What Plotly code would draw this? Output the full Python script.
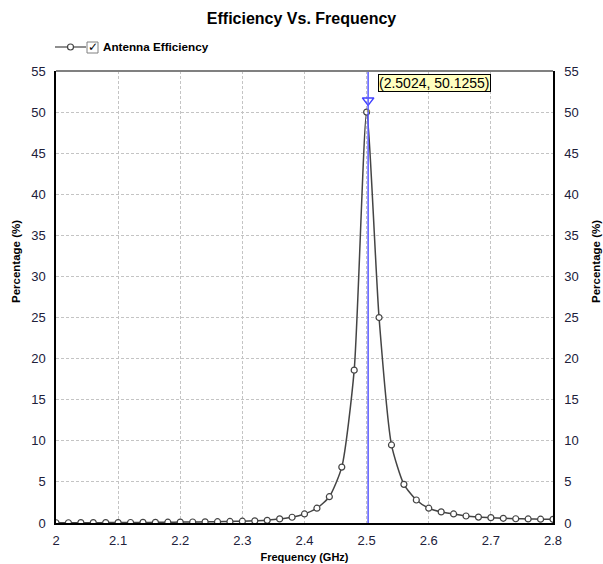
import plotly.graph_objects as go

freq = [2.00, 2.02, 2.04, 2.06, 2.08, 2.10, 2.12, 2.14, 2.16, 2.18,
        2.20, 2.22, 2.24, 2.26, 2.28, 2.30, 2.32, 2.34, 2.36, 2.38,
        2.40, 2.42, 2.44, 2.46, 2.48, 2.50, 2.52, 2.54, 2.56, 2.58,
        2.60, 2.62, 2.64, 2.66, 2.68, 2.70, 2.72, 2.74, 2.76, 2.78, 2.80]
efficiency = [0.03, 0.03, 0.04, 0.04, 0.05, 0.05, 0.06, 0.07, 0.08, 0.10,
              0.11, 0.12, 0.14, 0.16, 0.19, 0.22, 0.26, 0.32, 0.50, 0.70,
              1.10, 1.80, 3.20, 6.80, 18.6, 50.0, 25.0, 9.5, 4.7, 2.8,
              1.8, 1.35, 1.10, 0.85, 0.72, 0.65, 0.57, 0.52, 0.49, 0.46, 0.45]
peak_x = 2.5024
peak_y = 50.1255
series_name = "Antenna Efficiency"
title = "Efficiency Vs. Frequency"
x_title = "Frequency (GHz)"
y_title = "Percentage (%)"

FONT = "Arial, Liberation Sans, sans-serif"

fig = go.Figure()
fig.add_trace(go.Scatter(
    x=freq, y=efficiency, mode="lines+markers", name=series_name,
    line=dict(color="#444444", width=1.5, shape="spline", smoothing=0.6),
    marker=dict(symbol="circle", size=6, color="white",
                line=dict(color="#444444", width=1.2)),
    showlegend=False, hoverinfo="skip"))
# right axis companion (invisible)
fig.add_trace(go.Scatter(x=[freq[0]], y=[efficiency[0]], yaxis="y2",
                         mode="markers", marker=dict(opacity=0),
                         showlegend=False, hoverinfo="skip"))
# crosshair marker
fig.add_trace(go.Scatter(x=[peak_x], y=[peak_y + 1.3], mode="markers",
                         marker=dict(symbol="triangle-down-open", size=10,
                                     color="#4040ff", line=dict(width=1.5)),
                         showlegend=False, hoverinfo="skip"))
fig.add_trace(go.Scatter(x=[peak_x], y=[peak_y], mode="markers",
                         marker=dict(symbol="circle", size=3, color="#e8e000"),
                         showlegend=False, hoverinfo="skip"))

shapes = [
    dict(type="line", xref="x", yref="paper", x0=peak_x, x1=peak_x, y0=0, y1=1,
         line=dict(color="#5a5aff", width=1.5)),
    dict(type="line", xref="paper", yref="paper", x0=0, x1=1, y0=1, y1=1,
         line=dict(color="#808080", width=2)),
]
# manual legend (pixels -> paper)
def px(xp):
    return (xp - 56) / 497.0
def py(yp):
    return (523 - yp) / 452.0
shapes += [
    dict(type="line", xref="paper", yref="paper", x0=px(55), x1=px(86),
         y0=py(47), y1=py(47), line=dict(color="#444444", width=1.2)),
    dict(type="circle", xref="paper", yref="paper", x0=px(67.5), x1=px(73.5),
         y0=py(50), y1=py(44), fillcolor="white",
         line=dict(color="#444444", width=1.2)),
    dict(type="rect", xref="paper", yref="paper", x0=px(87), x1=px(98),
         y0=py(53), y1=py(42), fillcolor="white",
         line=dict(color="#808080", width=1)),
]
annotations = [
    dict(xref="paper", yref="paper", x=px(92.5), y=py(47.5), text="<b>✓</b>",
         showarrow=False, font=dict(family="DejaVu Sans", size=12, color="black"),
         xanchor="center", yanchor="middle"),
    dict(xref="paper", yref="paper", x=px(101), y=py(47), text="<b>" + series_name + "</b>",
         showarrow=False, font=dict(family=FONT, size=11.7, color="black"),
         xanchor="left", yanchor="middle"),
    dict(xref="x", yref="y", x=peak_x, y=53.5, xshift=10,
         text="(%.4f, %.4f)" % (peak_x, peak_y), showarrow=False,
         xanchor="left", yanchor="middle", bgcolor="#ffffc0",
         bordercolor="black", borderwidth=1, borderpad=0,
         font=dict(family=FONT, size=14, color="black")),
    dict(xref="paper", yref="paper", x=px(16), y=py(262), text="<b>" + y_title + "</b>",
         textangle=-90, showarrow=False, xanchor="center", yanchor="middle",
         font=dict(family=FONT, size=11.5, color="black")),
    dict(xref="paper", yref="paper", x=px(596), y=py(262), text="<b>" + y_title + "</b>",
         textangle=-90, showarrow=False, xanchor="center", yanchor="middle",
         font=dict(family=FONT, size=11.5, color="black")),
]

axis_font = dict(family=FONT, size=13, color="#20203a")
grid = dict(showgrid=True, gridcolor="#c4c4c4", griddash="3px,2px", gridwidth=1)
fig.update_layout(
    width=603, height=564,
    margin=dict(l=56, r=50, t=71, b=41, autoexpand=False),
    paper_bgcolor="white", plot_bgcolor="white",
    title=dict(text="<b>" + title + "</b>", x=0.5, xanchor="center",
               y=1 - 18 / 564, yanchor="middle",
               font=dict(family=FONT, size=16, color="black")),
    xaxis=dict(range=[2.0, 2.8], dtick=0.1, tick0=2.0, **grid,
               showline=True, linecolor="black", linewidth=1.5,
               zeroline=False, ticks="", tickfont=axis_font, automargin=False,
               ticklabelstandoff=5,
               title=dict(text="<b>" + x_title + "</b>", standoff=6,
                          font=dict(family=FONT, size=11, color="black"))),
    yaxis=dict(range=[0, 55], dtick=5, **grid,
               showline=True, linecolor="black", linewidth=1.5,
               zeroline=False, ticks="", tickfont=axis_font, automargin=False,
               ticklabelstandoff=6),
    yaxis2=dict(range=[0, 55], dtick=5, overlaying="y", side="right",
                showgrid=False, showline=True, linecolor="black", linewidth=1.5,
                zeroline=False, ticks="", tickfont=axis_font, automargin=False,
                ticklabelstandoff=7),
    shapes=shapes, annotations=annotations,
)
fig.write_html("out.html", config={"displayModeBar": False},
               post_script="document.body.style.margin='0';document.body.style.overflow='hidden';")
